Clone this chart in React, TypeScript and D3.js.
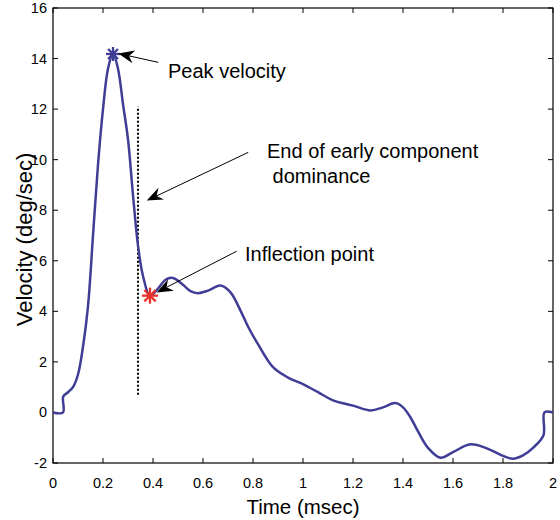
import React from "react";
import * as d3 from "d3";

// Time (msec) and velocity (deg/sec) samples
const times = [0, 0.04, 0.041, 0.06, 0.08, 0.10, 0.12, 0.14, 0.16, 0.18, 0.20, 0.22, 0.24, 0.26, 0.28, 0.30, 0.32, 0.34, 0.36, 0.388, 0.42, 0.45, 0.48, 0.52, 0.55, 0.58, 0.62, 0.67, 0.71, 0.75, 0.78, 0.82, 0.88, 0.94, 1.0, 1.06, 1.12, 1.2, 1.27, 1.32, 1.37, 1.40, 1.43, 1.46, 1.50, 1.55, 1.60, 1.67, 1.74, 1.80, 1.84, 1.88, 1.92, 1.962, 1.966, 2.0];
const velocity = [0, 0, 0.63, 0.8, 1.0, 1.5, 2.6, 4.2, 7.0, 9.8, 12.0, 13.6, 14.2, 13.6, 12.2, 10.8, 8.6, 6.6, 5.4, 4.62, 4.9, 5.25, 5.32, 5.05, 4.8, 4.72, 4.82, 5.02, 4.75, 4.03, 3.4, 2.7, 1.79, 1.38, 1.12, 0.8, 0.48, 0.27, 0.08, 0.2, 0.37, 0.2, -0.2, -0.75, -1.4, -1.79, -1.57, -1.26, -1.44, -1.72, -1.83, -1.7, -1.4, -0.9, 0, 0];

const xTicks = [0, 0.2, 0.4, 0.6, 0.8, 1, 1.2, 1.4, 1.6, 1.8, 2];
const yTicks = [-2, 0, 2, 4, 6, 8, 10, 12, 14, 16];

const peakPoint = [0.24, 14.18];
const inflectionPoint = [0.388, 4.62];
const dominanceLine = [0.34, 0.7, 12.1]; // t, vLow, vHigh

const annotations = [
  { lines: ["Peak velocity"], tx: 0.46, ty: 13.24, from: [0.421, 13.85], to: [0.261, 14.2] },
  { lines: ["End of early component", " dominance"], tx: 0.856, ty: 10.05, from: [0.781, 10.29], to: [0.375, 8.38] },
  { lines: ["Inflection point"], tx: 0.768, ty: 5.98, from: [0.735, 6.38], to: [0.415, 4.75] },
];

const W = 560, H = 520;
const M = { left: 53, right: 7, top: 8, bottom: 57 };
const FONT = "Liberation Sans, Arial, sans-serif";

function Arrow({ x1, y1, x2, y2 }: { x1: number; y1: number; x2: number; y2: number }) {
  const ang = Math.atan2(y2 - y1, x2 - x1);
  const L = 16, Wd = 6.5, notch = 11;
  const ux = Math.cos(ang), uy = Math.sin(ang);
  const px = -uy, py = ux;
  const bx = x2 - ux * L, by = y2 - uy * L;
  const nx = x2 - ux * notch, ny = y2 - uy * notch;
  const pts = [
    [x2, y2],
    [bx + px * Wd, by + py * Wd],
    [nx, ny],
    [bx - px * Wd, by - py * Wd],
  ];
  return (
    <g>
      <line x1={x1} y1={y1} x2={nx} y2={ny} stroke="#000" strokeWidth={1} />
      <polygon points={pts.map((p) => p.join(",")).join(" ")} fill="#000" />
    </g>
  );
}

function Asterisk({ cx, cy, r, color, sw }: { cx: number; cy: number; r: number; color: string; sw: number }) {
  const angles = [0, 45, 90, 135];
  return (
    <g stroke={color} strokeWidth={sw}>
      {angles.map((a) => {
        const rad = (a * Math.PI) / 180;
        const dx = Math.cos(rad) * r, dy = Math.sin(rad) * r;
        return <line key={a} x1={cx - dx} y1={cy - dy} x2={cx + dx} y2={cy + dy} />;
      })}
    </g>
  );
}

export default function App() {
  const x = d3.scaleLinear().domain([0, 2]).range([M.left, W - M.right]);
  const y = d3.scaleLinear().domain([-2, 16]).range([H - M.bottom, M.top]);
  const data = times.map((t, i) => [t, velocity[i]] as [number, number]);
  const line = d3
    .line<[number, number]>()
    .x((d) => x(d[0]))
    .y((d) => y(d[1]))
    .curve(d3.curveCatmullRom.alpha(0.5));
  const x0 = x(0), x1 = x(2), yTop = y(16), yBot = y(-2);
  const tk = 5;

  return (
    <svg width={W} height={H} style={{ position: "absolute", left: 0, top: 0 }} fontFamily={FONT}>
      <rect x={0} y={0} width={W} height={H} fill="#fff" />
      {/* frame */}
      <rect x={x0} y={yTop} width={x1 - x0} height={yBot - yTop} fill="none" stroke="#000" strokeWidth={1.2} />
      {xTicks.map((t) => (
        <g key={"x" + t}>
          <line x1={x(t)} x2={x(t)} y1={yBot} y2={yBot - tk} stroke="#000" />
          <line x1={x(t)} x2={x(t)} y1={yTop} y2={yTop + tk} stroke="#000" />
          <text x={x(t)} y={yBot + 25} fontSize={14.5} textAnchor="middle" fill="#000">
            {String(t)}
          </text>
        </g>
      ))}
      {yTicks.map((v) => (
        <g key={"y" + v}>
          <line x1={x0} x2={x0 + tk} y1={y(v)} y2={y(v)} stroke="#000" />
          <line x1={x1} x2={x1 - tk} y1={y(v)} y2={y(v)} stroke="#000" />
          <text x={x0 - 6} y={y(v) + 5} fontSize={14.5} textAnchor="end" fill="#000">
            {String(v)}
          </text>
        </g>
      ))}
      <text x={(x0 + x1) / 2} y={514} fontSize={20.5} textAnchor="middle" fill="#000">
        Time (msec)
      </text>
      <text
        transform={`translate(32,${(yTop + yBot) / 2 + 4}) rotate(-90)`}
        fontSize={22}
        textAnchor="middle"
        fill="#000"
      >
        Velocity (deg/sec)
      </text>

      {/* dotted dominance line */}
      <line
        x1={x(dominanceLine[0])}
        x2={x(dominanceLine[0])}
        y1={y(dominanceLine[1])}
        y2={y(dominanceLine[2])}
        stroke="#000"
        strokeWidth={2}
        strokeDasharray="2,2"
      />

      <path d={line(data) || ""} fill="none" stroke="#3f3d95" strokeWidth={2.5} strokeLinejoin="round" />

      <Asterisk cx={x(peakPoint[0])} cy={y(peakPoint[1])} r={7} color="#3f3d95" sw={2.3} />
      <Asterisk cx={x(inflectionPoint[0])} cy={y(inflectionPoint[1])} r={8} color="#e8312b" sw={2.3} />

      {annotations.map((a, i) => (
        <g key={i}>
          <Arrow x1={x(a.from[0])} y1={y(a.from[1])} x2={x(a.to[0])} y2={y(a.to[1])} />
          {a.lines.map((ln, j) => (
            <text key={j} x={x(a.tx)} y={y(a.ty) + j * 25} fontSize={20} fill="#000" xmlSpace="preserve" style={{ whiteSpace: "pre" }}>
              {ln}
            </text>
          ))}
        </g>
      ))}
    </svg>
  );
}
